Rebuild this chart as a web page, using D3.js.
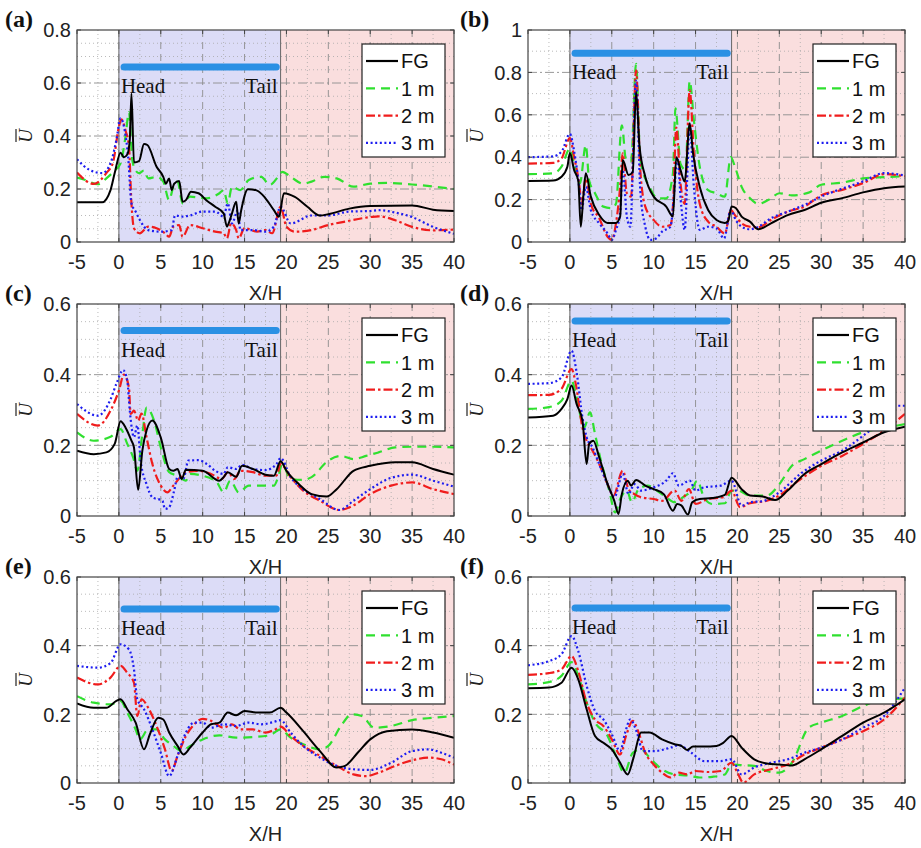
<!DOCTYPE html>
<html>
<head>
<meta charset="utf-8">
<script src="https://cdn.jsdelivr.net/npm/d3@7"></script>
<style>
  body { margin: 0; background: #fff; }
</style>
</head>
<body>
<svg id="chart"></svg>
<script>
// ---- data: [X/H, U] pairs ----
var aFG = [[-5,0.15],[-2,0.15],[-1,0.196],[-0.5,0.26],[0.2,0.337],[0.6,0.32],[1.0,0.33],[1.3,0.385],[1.5,0.56],[1.8,0.30],[2.4,0.305],[3.0,0.37],[3.4,0.366],[4.5,0.284],[5.3,0.246],[5.6,0.22],[6.0,0.24],[6.3,0.196],[6.6,0.22],[7.2,0.23],[7.6,0.152],[8.0,0.158],[8.6,0.19],[9.5,0.184],[10.5,0.156],[11.5,0.133],[12.5,0.108],[12.9,0.058],[13.1,0.07],[13.5,0.108],[14.0,0.152],[14.3,0.07],[14.6,0.12],[15.4,0.199],[16.5,0.194],[17.5,0.165],[18.5,0.12],[19.1,0.095],[19.7,0.184],[21,0.17],[22.5,0.133],[24,0.10],[25,0.105],[27.5,0.126],[30,0.136],[35,0.138],[37.5,0.122],[40,0.117]];
var a1m = [[-5,0.243],[-4,0.234],[-2.5,0.218],[-1.5,0.24],[-0.5,0.27],[0.2,0.297],[0.8,0.40],[1.2,0.49],[1.6,0.31],[2,0.27],[2.4,0.26],[3,0.27],[3.5,0.24],[4.5,0.246],[5.3,0.228],[6,0.158],[6.5,0.209],[7,0.228],[7.6,0.146],[8.5,0.171],[10.5,0.165],[12,0.184],[12.5,0.196],[13,0.146],[13.5,0.209],[14.5,0.196],[15.5,0.234],[17,0.246],[18,0.215],[19,0.246],[19.5,0.265],[20.5,0.246],[22,0.22],[23,0.228],[24.5,0.246],[26,0.24],[28,0.209],[30,0.22],[32,0.223],[35,0.217],[40,0.20]];
var a2m = [[-5,0.262],[-3,0.219],[-1.5,0.26],[-0.7,0.30],[0,0.435],[0.3,0.463],[0.8,0.42],[1.2,0.36],[1.5,0.146],[1.8,0.052],[2.5,0.033],[3.5,0.058],[4.5,0.052],[5.5,0.033],[6,0.02],[6.5,0.058],[7.2,0.064],[7.6,0.02],[8.5,0.064],[10,0.052],[11.5,0.039],[12.5,0.033],[12.9,0.014],[13.4,0.07],[14,0.045],[14.3,0.014],[15,0.052],[16.5,0.039],[17.5,0.045],[18.3,0.033],[19.3,0.133],[20,0.058],[21,0.039],[23,0.045],[25,0.064],[27,0.077],[30,0.094],[31,0.097],[33,0.082],[35,0.057],[37.5,0.044],[40,0.047]];
var a3m = [[-5,0.312],[-3.5,0.272],[-2,0.26],[-1,0.297],[-0.3,0.385],[0.2,0.467],[0.7,0.42],[1.1,0.322],[1.5,0.146],[2,0.115],[2.5,0.083],[3.5,0.045],[5,0.039],[6.3,0.045],[6.7,0.10],[7.6,0.096],[8.5,0.10],[10,0.115],[11.5,0.115],[12.5,0.096],[13,0.146],[13.5,0.07],[14.2,0.12],[14.5,0.045],[16,0.045],[17.5,0.039],[18.5,0.058],[19.3,0.133],[20.5,0.07],[23,0.10],[25,0.10],[27.5,0.115],[30,0.117],[31,0.12],[33,0.111],[35,0.094],[37.5,0.057],[40,0.031]];

var bFG = [[-5,0.288],[-2,0.29],[-1,0.308],[-0.3,0.355],[0,0.42],[0.5,0.34],[1,0.29],[1.3,0.072],[1.6,0.214],[1.9,0.324],[2.5,0.214],[3.5,0.127],[4.5,0.09],[5.5,0.09],[6,0.12],[6.3,0.387],[7,0.316],[7.5,0.33],[7.9,0.71],[8.3,0.457],[9,0.308],[10,0.214],[11.5,0.167],[12.3,0.12],[12.7,0.40],[13.2,0.34],[13.7,0.285],[14.3,0.56],[14.7,0.418],[15.5,0.26],[16.5,0.151],[17.5,0.104],[18.5,0.09],[18.9,0.10],[19.3,0.168],[19.8,0.16],[20.5,0.12],[21.5,0.096],[22.5,0.06],[24,0.088],[26,0.127],[28,0.151],[30,0.185],[32.5,0.207],[35,0.234],[37.5,0.254],[40,0.262]];
var b1m = [[-5,0.32],[-2,0.324],[-1,0.355],[0,0.44],[0.5,0.37],[1.2,0.277],[1.9,0.457],[2.3,0.29],[3,0.23],[4,0.167],[5,0.16],[5.5,0.18],[6.2,0.55],[6.7,0.387],[7.3,0.38],[7.9,0.84],[8.4,0.387],[9.5,0.26],[10.5,0.206],[11.5,0.206],[12.3,0.324],[12.6,0.63],[13.2,0.37],[13.8,0.34],[14.3,0.76],[14.8,0.575],[15.5,0.355],[16.5,0.245],[17.5,0.23],[18.5,0.214],[19.2,0.40],[19.7,0.355],[20.5,0.26],[21.5,0.206],[22.5,0.18],[24,0.206],[25,0.23],[26.5,0.22],[28.5,0.233],[30,0.27],[32.5,0.28],[35,0.30],[37.5,0.306],[40,0.31]];
var b2m = [[-5,0.37],[-2,0.373],[-1,0.394],[0,0.49],[0.5,0.40],[1.1,0.277],[1.4,0.18],[1.9,0.30],[2.5,0.18],[3.5,0.112],[4.5,0.025],[5,0.01],[5.5,0.088],[6,0.26],[6.3,0.418],[6.8,0.23],[7.3,0.214],[7.9,0.81],[8.4,0.34],[9,0.167],[10,0.104],[11,0.072],[12,0.08],[12.3,0.167],[12.7,0.54],[13.2,0.277],[13.7,0.18],[14.3,0.717],[14.8,0.418],[15.5,0.18],[16.5,0.096],[17.5,0.072],[18.5,0.04],[19.2,0.151],[19.7,0.127],[20.5,0.088],[21.5,0.072],[22.5,0.069],[24,0.104],[26,0.143],[28,0.167],[30,0.22],[32.5,0.246],[35,0.278],[37.5,0.32],[40,0.31]];
var b3m = [[-5,0.40],[-2,0.404],[-1,0.426],[0,0.51],[0.5,0.43],[1.1,0.26],[1.4,0.15],[1.9,0.26],[2.5,0.15],[3.5,0.088],[4.5,0.04],[5,0.01],[5.5,0.057],[6,0.135],[6.3,0.34],[6.8,0.12],[7.2,0.072],[7.9,0.76],[8.4,0.245],[9,0.072],[9.6,0.01],[10.3,0.017],[11,0.049],[12,0.072],[12.5,0.26],[12.8,0.40],[13.3,0.167],[13.7,0.057],[14.3,0.54],[14.8,0.26],[15.5,0.057],[16.5,0.072],[17.5,0.064],[18.4,0.017],[19.2,0.151],[19.8,0.104],[20.5,0.072],[21.5,0.06],[22.5,0.072],[24,0.112],[26,0.143],[28,0.175],[30,0.214],[35,0.286],[37.5,0.325],[40,0.314]];

var cFG = [[-5,0.185],[-3,0.175],[-1.5,0.18],[-0.5,0.204],[0.2,0.268],[0.8,0.25],[1.5,0.213],[1.8,0.194],[2.3,0.074],[2.8,0.185],[3.3,0.242],[4,0.27],[5,0.222],[6,0.133],[6.5,0.128],[7,0.133],[7.5,0.105],[8,0.131],[10,0.128],[12,0.10],[12.5,0.11],[13,0.124],[14,0.111],[14.7,0.142],[16,0.133],[17.5,0.117],[18.5,0.114],[19.3,0.155],[20,0.128],[21.5,0.09],[23,0.062],[24.8,0.055],[26,0.076],[28,0.128],[30,0.142],[33,0.152],[35,0.152],[37.5,0.133],[40,0.117]];
var c1m = [[-5,0.237],[-3,0.213],[-1,0.224],[0.2,0.246],[1,0.204],[1.7,0.166],[2.2,0.128],[2.8,0.232],[3.3,0.307],[4.2,0.27],[5,0.194],[6,0.124],[7,0.114],[8,0.10],[8.5,0.119],[10,0.114],[11.7,0.095],[12.5,0.067],[13.3,0.10],[14.3,0.067],[15.5,0.086],[17,0.086],[18.5,0.086],[19,0.11],[19.5,0.147],[20.5,0.105],[22,0.102],[23,0.11],[25,0.157],[26.5,0.17],[28,0.161],[29.5,0.17],[31,0.18],[33,0.194],[35,0.196],[37.5,0.196],[40,0.194]];
var c2m = [[-5,0.289],[-2.5,0.256],[-1,0.298],[0,0.355],[0.6,0.40],[1.2,0.364],[1.4,0.289],[1.8,0.298],[2.3,0.27],[2.7,0.29],[3.3,0.223],[4,0.147],[5,0.086],[5.8,0.067],[6.5,0.086],[7.5,0.114],[8,0.124],[9.5,0.128],[11,0.119],[12.3,0.105],[13,0.124],[13.8,0.105],[14.5,0.128],[16,0.124],[17.5,0.114],[18.8,0.114],[19.3,0.147],[20.5,0.11],[22,0.072],[24,0.043],[26.3,0.017],[28,0.03],[30,0.062],[32.5,0.086],[35,0.095],[37.5,0.076],[40,0.062]];
var c3m = [[-5,0.317],[-2.5,0.284],[-1,0.33],[-0.3,0.374],[0.5,0.413],[1,0.383],[1.3,0.298],[1.8,0.223],[2.2,0.256],[2.6,0.157],[3.3,0.09],[4,0.053],[5.2,0.043],[5.5,0.02],[6,0.025],[6.6,0.072],[7,0.11],[7.7,0.105],[8.3,0.157],[9.5,0.158],[10.5,0.147],[11.5,0.128],[12.5,0.119],[13,0.138],[14,0.133],[14.7,0.145],[16,0.133],[17.5,0.13],[18.8,0.147],[19.3,0.164],[20.5,0.11],[22,0.076],[24,0.048],[26.3,0.017],[28,0.043],[30,0.076],[32.5,0.108],[35,0.117],[37.5,0.10],[40,0.083]];

var dFG = [[-5,0.279],[-2,0.284],[-1,0.303],[-0.3,0.331],[0.2,0.369],[0.8,0.317],[1.5,0.27],[2,0.147],[2.3,0.204],[2.8,0.213],[3.5,0.166],[4.5,0.09],[5.3,0.043],[5.8,0.006],[6.2,0.062],[6.9,0.10],[7.3,0.086],[7.9,0.102],[9,0.086],[10,0.076],[11.2,0.062],[12.3,0.015],[12.8,0.034],[13.3,0.03],[14.1,0.004],[14.6,0.039],[15.5,0.048],[17,0.051],[18.5,0.06],[19.3,0.108],[20.5,0.076],[21.5,0.058],[23,0.055],[24.5,0.045],[26,0.072],[28,0.119],[30,0.147],[32.5,0.18],[35,0.208],[37.5,0.237],[40,0.253]];
var d1m = [[-5,0.303],[-2.5,0.308],[-1,0.326],[0.2,0.383],[0.8,0.336],[1.7,0.25],[2.4,0.293],[3,0.232],[3.7,0.157],[4.7,0.072],[5.4,0.01],[6,0.048],[6.8,0.072],[7.4,0.039],[8.2,0.076],[9.3,0.086],[10.5,0.07],[11.5,0.053],[12.5,0.039],[13.5,0.053],[14.5,0.072],[15.2,0.10],[16,0.053],[17,0.034],[18.5,0.036],[19.3,0.072],[20,0.072],[21.5,0.058],[23.5,0.058],[25,0.09],[26.5,0.142],[28,0.161],[30,0.185],[32.5,0.213],[35,0.237],[37.5,0.249],[40,0.26]];
var d2m = [[-5,0.342],[-2.5,0.343],[-1,0.36],[0.2,0.416],[0.7,0.374],[1.5,0.25],[2,0.213],[2.7,0.185],[3.5,0.147],[4.5,0.09],[5.2,0.058],[6.3,0.128],[7,0.076],[7.7,0.062],[8.5,0.053],[10,0.048],[11,0.043],[12.5,0.072],[13.3,0.043],[14.2,0.076],[15,0.034],[16.5,0.048],[18.3,0.053],[19.3,0.072],[20.3,0.025],[21.5,0.036],[23.5,0.043],[25,0.058],[27,0.095],[30,0.142],[32.5,0.17],[35,0.204],[37.5,0.242],[40,0.289]];
var d3m = [[-5,0.374],[-2.5,0.376],[-1,0.392],[0.2,0.468],[0.8,0.407],[1.5,0.279],[2,0.223],[2.7,0.194],[3.5,0.147],[4.5,0.09],[5.3,0.053],[6.3,0.119],[7,0.062],[7.7,0.09],[8.5,0.072],[10,0.081],[11.5,0.10],[12.3,0.121],[13,0.086],[14.3,0.10],[15,0.072],[16,0.081],[18,0.086],[19.3,0.10],[20.5,0.029],[21.5,0.039],[23,0.042],[25,0.067],[27.5,0.119],[30,0.157],[32.5,0.185],[35,0.227],[37.5,0.275],[39,0.312],[40,0.312]];

var eFG = [[-5,0.232],[-3,0.219],[-1.5,0.219],[-0.3,0.239],[0.2,0.244],[1,0.215],[2,0.176],[3,0.098],[3.7,0.142],[4.7,0.19],[5.3,0.185],[6,0.147],[7,0.108],[7.7,0.083],[8.5,0.103],[10,0.147],[11,0.171],[12,0.176],[13,0.205],[14,0.197],[15,0.21],[16.5,0.205],[18,0.205],[19.3,0.219],[20,0.205],[22,0.151],[24,0.093],[26,0.045],[27,0.05],[28.5,0.088],[30,0.127],[32,0.151],[35,0.156],[37.5,0.147],[40,0.132]];
var e1m = [[-5,0.253],[-3,0.234],[-1,0.229],[0.2,0.239],[1,0.205],[2,0.156],[2.5,0.127],[3.5,0.156],[4.5,0.156],[5.5,0.127],[6.5,0.108],[7.5,0.093],[8.5,0.108],[10,0.127],[12,0.139],[14,0.132],[16,0.134],[18,0.139],[19.3,0.156],[20.5,0.132],[22,0.113],[24,0.098],[25,0.108],[26.5,0.166],[27.8,0.20],[29,0.195],[30.5,0.161],[32.5,0.166],[35,0.183],[37.5,0.19],[40,0.195]];
var e2m = [[-5,0.307],[-2.5,0.287],[-1,0.307],[0.2,0.341],[1,0.321],[1.8,0.292],[2.2,0.195],[2.7,0.244],[3.5,0.219],[4.5,0.166],[5.5,0.098],[6.3,0.035],[7,0.079],[8,0.137],[9,0.171],[10,0.187],[11,0.181],[12.5,0.161],[13.5,0.171],[14.5,0.156],[16,0.156],[17.5,0.147],[18.5,0.154],[19.3,0.164],[20.5,0.137],[22,0.108],[24,0.079],[26,0.05],[28,0.025],[29.5,0.02],[31,0.03],[33,0.05],[35,0.066],[37,0.074],[38.5,0.069],[40,0.054]];
var e3m = [[-5,0.341],[-2.5,0.336],[-1,0.349],[0.2,0.404],[1.2,0.389],[1.8,0.331],[2.2,0.244],[3,0.215],[4,0.156],[5,0.088],[6,0.02],[7,0.079],[8,0.147],[9,0.176],[10,0.176],[11,0.161],[12.5,0.171],[14,0.166],[15.5,0.176],[17,0.171],[18.5,0.178],[19.3,0.183],[20.5,0.147],[22,0.108],[24,0.074],[26,0.05],[28,0.04],[30,0.038],[32.5,0.059],[35,0.093],[37,0.098],[38.5,0.088],[40,0.074]];

var fFG = [[-5,0.276],[-2.5,0.278],[-1,0.292],[0.2,0.336],[1,0.302],[2,0.215],[3,0.137],[4,0.117],[5,0.098],[6,0.059],[6.9,0.025],[7.6,0.074],[8.5,0.147],[9.5,0.147],[11,0.127],[12.5,0.113],[13.3,0.108],[14,0.096],[14.7,0.106],[16,0.106],[17.5,0.108],[18.3,0.117],[19.3,0.137],[20.5,0.103],[22,0.069],[23.5,0.057],[25,0.054],[26.5,0.051],[28,0.069],[30,0.098],[32.5,0.137],[35,0.176],[37.5,0.205],[40,0.244]];
var f1m = [[-5,0.287],[-2.5,0.294],[-1,0.312],[0.2,0.352],[1,0.312],[2,0.234],[3,0.176],[4.5,0.137],[5.5,0.079],[6.5,0.03],[7.5,0.088],[8.5,0.098],[9.5,0.074],[11,0.04],[12.5,0.025],[14,0.022],[15.5,0.016],[17,0.018],[18.5,0.025],[19.3,0.054],[20.5,0.052],[22,0.05],[23.5,0.035],[25,0.03],[26.5,0.059],[28.5,0.161],[30,0.176],[32.5,0.195],[35,0.224],[37,0.242],[40,0.246]];
var f2m = [[-5,0.315],[-2.5,0.32],[-1,0.331],[0.2,0.37],[1,0.326],[2,0.234],[3,0.185],[4,0.166],[5,0.127],[6,0.083],[6.7,0.137],[7.5,0.181],[8.2,0.147],[9,0.088],[10,0.054],[11,0.03],[12,0.016],[13,0.03],[14,0.025],[15,0.035],[16.5,0.032],[18,0.035],[19.3,0.059],[20,0.03],[20.7,0.001],[22,0.025],[24,0.04],[26,0.054],[28,0.083],[30,0.103],[32.5,0.127],[35,0.151],[37.5,0.185],[40,0.249]];
var f3m = [[-5,0.343],[-2.5,0.355],[-1,0.375],[0.2,0.428],[1,0.384],[2,0.283],[3,0.21],[4,0.185],[5,0.142],[6,0.093],[6.6,0.147],[7.2,0.185],[8,0.147],[8.7,0.093],[10,0.093],[12,0.103],[13,0.11],[14.5,0.088],[16,0.064],[18,0.064],[19.3,0.069],[20.5,0.025],[22,0.045],[24,0.059],[26,0.069],[28,0.088],[30,0.103],[32.5,0.127],[35,0.161],[37.5,0.195],[40,0.278]];

var panelLabels = ["(a)", "(b)", "(c)", "(d)", "(e)", "(f)"];
var seriesNames = ["FG", "1 m", "2 m", "3 m"];
var yMaxes = [0.8, 1, 0.6, 0.6, 0.6, 0.6];
var yMinorSteps = [0.05, 0.1, 0.05, 0.05, 0.05, 0.05];
var barLevels = [0.66, 0.89, 0.525, 0.552, 0.507, 0.51];  // height of the blue ship bar
var xTicks = [-5, 0, 5, 10, 15, 20, 25, 30, 35, 40];
var shipEnd = 19.3;

var panels = [
  [aFG, a1m, a2m, a3m],
  [bFG, b1m, b2m, b3m],
  [cFG, c1m, c2m, c3m],
  [dFG, d1m, d2m, d3m],
  [eFG, e1m, e2m, e3m],
  [fFG, f1m, f2m, f3m]
];

// ---- layout ----
var width = 921, height = 848;
var colLeft = [77, 528], plotW = 377;
var rowTop = [30, 304, 577], rowH = [212, 212, 206];

var lineColors = ["#000000", "#2fe02f", "#f01c1c", "#1c1cf0"];
var lineDash = [null, "9,6", "9,3,2.5,3", "2,2.6"];
var sansFont = "'Liberation Sans', Arial, sans-serif";
var serifFont = "'Liberation Serif', 'Times New Roman', serif";

var svg = d3.select("#chart").attr("width", width).attr("height", height);

function fmt(d) {
  if (d === 0) return "0";
  if (Math.abs(d - 1) < 1e-9) return "1";
  return d.toFixed(1);
}

panels.forEach(function (series, i) {
  var col = i % 2, row = Math.floor(i / 2);
  var h = rowH[row], yMax = yMaxes[i];
  var left = colLeft[col], top = rowTop[row];

  var x = d3.scaleLinear().domain([-5, 40]).range([0, plotW]);
  var y = d3.scaleLinear().domain([0, yMax]).range([h, 0]);

  var g = svg.append("g").attr("transform", "translate(" + left + "," + top + ")");

  g.append("clipPath").attr("id", "clip" + i)
    .append("rect").attr("width", plotW).attr("height", h);

  // shaded regions
  g.append("rect").attr("x", x(0)).attr("y", 0)
    .attr("width", x(shipEnd) - x(0)).attr("height", h)
    .attr("fill", "#dcdcf7");
  g.append("rect").attr("x", x(shipEnd)).attr("y", 0)
    .attr("width", x(40) - x(shipEnd)).attr("height", h)
    .attr("fill", "#fadede");

  // minor grid (dotted)
  var xMinor = d3.range(-2.5, 40, 5);
  var yStep = yMinorSteps[i];
  var yMinor = d3.range(yStep, yMax - 1e-6, yStep).filter(function (v) {
    return Math.abs(v / 0.2 - Math.round(v / 0.2)) > 1e-6;
  });
  g.selectAll(".vminor").data(xMinor).enter().append("line")
    .attr("x1", x).attr("x2", x).attr("y1", 0).attr("y2", h)
    .attr("stroke", "#a8a8a8").attr("stroke-width", 0.8).attr("stroke-dasharray", "1,3");
  g.selectAll(".hminor").data(yMinor).enter().append("line")
    .attr("x1", 0).attr("x2", plotW).attr("y1", y).attr("y2", y)
    .attr("stroke", "#a8a8a8").attr("stroke-width", 0.8).attr("stroke-dasharray", "1,3");

  // major grid (dashed)
  var yTicks = d3.range(0, yMax + 1e-9, 0.2);
  g.selectAll(".vmajor").data(xTicks.slice(1, -1)).enter().append("line")
    .attr("x1", x).attr("x2", x).attr("y1", 0).attr("y2", h)
    .attr("stroke", "#8c8c8c").attr("stroke-width", 0.9).attr("stroke-dasharray", "7,5");
  g.selectAll(".hmajor").data(yTicks.slice(1, -1)).enter().append("line")
    .attr("x1", 0).attr("x2", plotW).attr("y1", y).attr("y2", y)
    .attr("stroke", "#8c8c8c").attr("stroke-width", 0.9).attr("stroke-dasharray", "9,3,2,3");

  // region boundaries
  [0, shipEnd].forEach(function (v) {
    g.append("line").attr("x1", x(v)).attr("x2", x(v)).attr("y1", 0).attr("y2", h)
      .attr("stroke", "#666").attr("stroke-width", 1);
  });

  // ship bar + labels
  var by = y(barLevels[i]);
  g.append("rect").attr("x", x(0.2)).attr("y", by - 3.5)
    .attr("width", x(19.2) - x(0.2)).attr("height", 7).attr("rx", 3.5)
    .attr("fill", "#2a90e4");
  g.append("text").attr("x", x(0) + 2).attr("y", by + 26)
    .attr("font-family", serifFont).attr("font-size", 21).attr("fill", "#111")
    .text("Head");
  g.append("text").attr("x", x(shipEnd) - 3).attr("y", by + 26)
    .attr("text-anchor", "end")
    .attr("font-family", serifFont).attr("font-size", 21).attr("fill", "#111")
    .text("Tail");

  // series lines
  var line = d3.line()
    .x(function (d) { return x(d[0]); })
    .y(function (d) { return y(d[1]); })
    .curve(d3.curveMonotoneX);
  var lines = g.append("g").attr("clip-path", "url(#clip" + i + ")");
  [1, 2, 3, 0].forEach(function (k) {
    lines.append("path").datum(series[k])
      .attr("d", line)
      .attr("fill", "none")
      .attr("stroke", lineColors[k])
      .attr("stroke-width", k === 0 ? 2 : 2.2)
      .attr("stroke-dasharray", lineDash[k]);
  });

  // legend
  var lg = g.append("g").attr("transform", "translate(285,14)");
  lg.append("rect").attr("width", 83).attr("height", 113)
    .attr("fill", "#fff").attr("stroke", "#222").attr("stroke-width", 1.2);
  seriesNames.forEach(function (name, k) {
    var ly = 17 + k * 27.3;
    lg.append("line").attr("x1", 4).attr("x2", 36).attr("y1", ly).attr("y2", ly)
      .attr("stroke", lineColors[k]).attr("stroke-width", 2.2)
      .attr("stroke-dasharray", lineDash[k]);
    lg.append("text").attr("x", 39).attr("y", ly).attr("dy", "0.36em")
      .attr("font-family", sansFont).attr("font-size", 20).attr("fill", "#111")
      .text(name);
  });

  // frame and inward ticks
  g.append("rect").attr("width", plotW).attr("height", h)
    .attr("fill", "none").attr("stroke", "#444").attr("stroke-width", 1.2);
  xTicks.forEach(function (v) {
    g.append("line").attr("x1", x(v)).attr("x2", x(v)).attr("y1", h).attr("y2", h - 4).attr("stroke", "#444");
    g.append("line").attr("x1", x(v)).attr("x2", x(v)).attr("y1", 0).attr("y2", 4).attr("stroke", "#444");
  });
  yTicks.forEach(function (v) {
    g.append("line").attr("x1", 0).attr("x2", 4).attr("y1", y(v)).attr("y2", y(v)).attr("stroke", "#444");
    g.append("line").attr("x1", plotW).attr("x2", plotW - 4).attr("y1", y(v)).attr("y2", y(v)).attr("stroke", "#444");
  });

  // tick labels
  g.selectAll(".xl").data(xTicks).enter().append("text")
    .attr("x", x).attr("y", h + 27).attr("text-anchor", "middle")
    .attr("font-family", sansFont).attr("font-size", 20).attr("fill", "#222")
    .text(function (d) { return d; });
  g.selectAll(".yl").data(yTicks).enter().append("text")
    .attr("x", -6).attr("y", y).attr("dy", "0.36em").attr("text-anchor", "end")
    .attr("font-family", sansFont).attr("font-size", 20).attr("fill", "#222")
    .text(fmt);

  // axis titles
  g.append("text").attr("x", plotW / 2).attr("y", h + 58).attr("text-anchor", "middle")
    .attr("font-family", sansFont).attr("font-size", 20).attr("fill", "#222")
    .text("X/H");
  var ul = g.append("g").attr("transform", "translate(-45," + (h / 2) + ") rotate(-90)");
  ul.append("text").attr("x", 0).attr("y", 0).attr("text-anchor", "middle")
    .attr("font-family", serifFont).attr("font-style", "italic").attr("font-size", 19)
    .attr("fill", "#222").text("U");
  ul.append("line").attr("x1", -6).attr("x2", 7).attr("y1", -16).attr("y2", -16)
    .attr("stroke", "#222").attr("stroke-width", 1.2);

  // panel label
  svg.append("text").attr("x", col === 0 ? 5 : 460).attr("y", top - 3)
    .attr("font-family", serifFont).attr("font-weight", "bold").attr("font-size", 24)
    .attr("fill", "#111").text(panelLabels[i]);
});
</script>
</body>
</html>
